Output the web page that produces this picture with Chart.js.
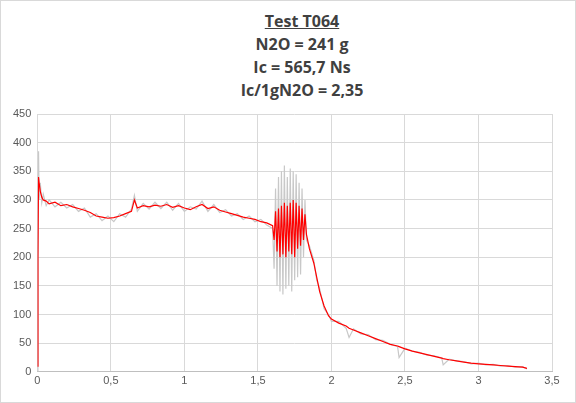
<!DOCTYPE html><html><head><meta charset="utf-8">
<script src="https://cdn.jsdelivr.net/npm/chart.js"></script>
<style>
html,body{margin:0;padding:0;background:#fff}
#wrap{position:relative;width:574px;height:401px;border:1px solid #d9d9d9}
#title{position:absolute;left:0;top:9px;width:602px;text-align:center;font-family:"Open Sans","Liberation Sans",sans-serif;font-weight:bold;font-size:16px;line-height:23px;color:#404040}
#cv{position:absolute;left:0;top:98px}
</style></head><body>
<div id="wrap"><div id="title"><u>Test T064</u><br>N2O = 241 g<br>Ic = 565,7 Ns<br>Ic/1gN2O = 2,35</div>
<canvas id="cv" width="574" height="300"></canvas></div>
<script>
const timeS=[0,0.004,0.008,0.012,0.02,0.03,0.04,0.06,0.08,0.12,0.16,0.2,0.24,0.28,0.32,0.36,0.4,0.44,0.48,0.52,0.56,0.6,0.64,0.66,0.68,0.72,0.76,0.8,0.84,0.88,0.92,0.96,1.0,1.04,1.08,1.12,1.16,1.2,1.24,1.28,1.32,1.36,1.4,1.44,1.48,1.52,1.56,1.6,
1.61,1.62,1.63,1.64,1.65,1.66,1.67,1.68,1.69,1.70,1.71,1.72,1.73,1.74,1.75,1.76,1.77,1.78,1.79,1.80,1.81,1.82,1.83,
1.85,1.88,1.9,1.92,1.95,1.98,2.0,2.05,2.1,2.12,2.15,2.2,2.25,2.3,2.35,2.4,2.45,2.46,2.5,2.55,2.6,2.65,2.7,2.75,2.76,2.8,2.85,2.9,2.95,3.0,3.05,3.1,3.15,3.2,3.25,3.3,3.33];
const filtered=[10,200,340,330,315,305,300,298,293,296,290,292,288,285,282,278,272,270,268,269,272,276,280,300,286,290,288,291,289,292,287,290,286,283,288,292,285,288,282,279,276,273,270,268,266,262,260,255,
230,280,210,285,200,290,205,295,200,290,210,295,205,300,200,295,215,290,220,285,230,275,240,
215,190,165,140,115,98,92,85,80,76,73,68,63,58,53,48,45,44,40,36,33,30,27,24,23,21,19,17,15,14,13,12,11,10,9,8,6];
const raw=[0,280,385,300,330,295,310,290,300,288,296,286,292,280,286,270,276,264,272,262,276,270,284,308,280,294,284,296,285,296,282,294,280,288,284,298,280,292,278,283,272,276,266,272,262,266,256,250,
180,320,150,340,140,350,135,360,145,340,150,355,140,350,160,345,165,330,170,320,200,300,230,
220,195,160,145,110,100,88,88,76,60,75,66,65,56,55,48,44,25,41,36,34,29,28,24,12,22,19,18,14,15,12,13,10,11,8,9,5];
const pts=a=>timeS.map((t,i)=>({x:t,y:a[i]}));
new Chart(document.getElementById('cv'),{type:'line',
data:{datasets:[
{data:pts(filtered),borderColor:'#ff0000',borderWidth:1.2,pointRadius:0,tension:0},
{data:pts(raw),borderColor:'#c8c8c8',borderWidth:1.2,pointRadius:0,tension:0}]},
options:{responsive:false,animation:false,layout:{padding:{left:6,right:23,top:15,bottom:8}},
plugins:{legend:{display:false},tooltip:{enabled:false}},
scales:{x:{type:'linear',min:0,max:3.5,ticks:{stepSize:0.5,color:'#595959',font:{size:11},callback:v=>String(v).replace('.',',')},grid:{color:'#d9d9d9',drawTicks:false},border:{color:'#bfbfbf'}},
y:{min:0,max:450,ticks:{stepSize:50,color:'#595959',font:{size:11},padding:6},grid:{color:'#d9d9d9',drawTicks:false},border:{display:false}}}}});
</script></body></html>
